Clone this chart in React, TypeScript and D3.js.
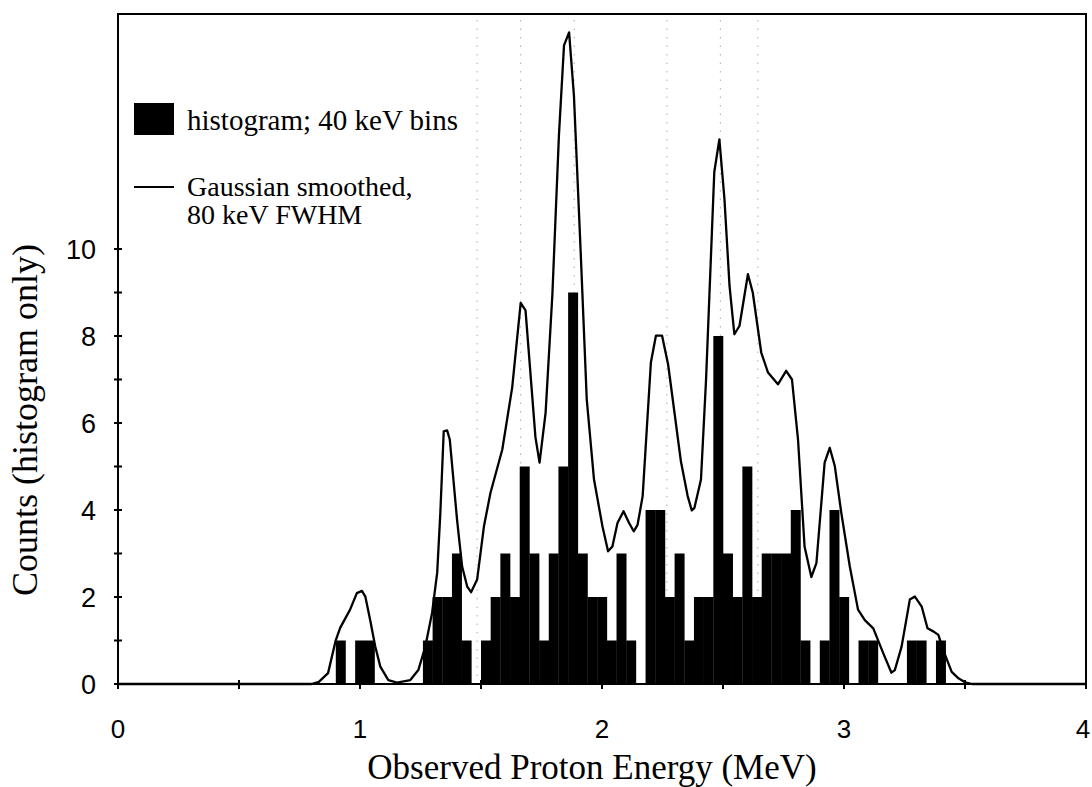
import { useMemo } from "react";
import * as d3 from "d3";

// histogram: 40 keV bins, bin centres in MeV (empty bins left out)
const binCenters = [
  0.92, 1.0, 1.04,
  1.28, 1.32, 1.36, 1.4, 1.44, 1.52, 1.56, 1.6, 1.64, 1.68, 1.72, 1.76, 1.8,
  1.84, 1.88, 1.92, 1.96, 2.0, 2.04, 2.08, 2.12, 2.2, 2.24, 2.28, 2.32, 2.36,
  2.4, 2.44, 2.48, 2.52, 2.56, 2.6, 2.64, 2.68, 2.72, 2.76, 2.8, 2.84, 2.92,
  2.96, 3.0, 3.08, 3.12, 3.28, 3.32, 3.4,
];
const binCounts = [
  1, 1, 1,
  1, 2, 2, 3, 1, 1, 2, 3, 2, 5, 3, 1, 3,
  5, 9, 3, 2, 2, 1, 3, 1, 4, 4, 2, 3, 1,
  2, 2, 8, 3, 2, 5, 2, 3, 3, 3, 4, 1, 1,
  4, 2, 1, 1, 1, 1, 1,
];
const binWidth = 0.04;

// gaussian smoothed curve (80 keV FWHM)
const smoothEnergy = [
  0, 0.8, 0.83, 0.868, 0.9, 0.918, 0.959, 0.987, 1.008, 1.022, 1.042, 1.063,
  1.084, 1.117, 1.153, 1.208, 1.241, 1.27, 1.298, 1.319, 1.332, 1.346, 1.36,
  1.371, 1.401, 1.422, 1.443, 1.459, 1.484, 1.512, 1.539, 1.588, 1.629, 1.664,
  1.684, 1.725, 1.742, 1.767, 1.795, 1.822, 1.843, 1.864, 1.884, 1.912, 1.937,
  1.967, 2.002, 2.025, 2.043, 2.064, 2.089, 2.112, 2.131, 2.147, 2.168, 2.202,
  2.223, 2.248, 2.273, 2.285, 2.326, 2.354, 2.371, 2.382, 2.409, 2.43, 2.464,
  2.485, 2.506, 2.527, 2.547, 2.568, 2.603, 2.623, 2.658, 2.686, 2.727, 2.761,
  2.785, 2.81, 2.837, 2.865, 2.886, 2.92, 2.941, 2.962, 2.989, 3.024, 3.058,
  3.086, 3.121, 3.162, 3.196, 3.21, 3.238, 3.272, 3.293, 3.321, 3.345, 3.369,
  3.39, 3.41, 3.445, 3.473, 3.5, 3.53, 4,
];
const smoothCounts = [
  0, 0, 0.05, 0.25, 1.01, 1.29, 1.71, 2.09, 2.14, 2.01, 1.47, 0.86,
  0.4, 0.09, 0.03, 0.09, 0.32, 0.86, 1.64, 2.56, 3.94, 5.81, 5.83,
  5.62, 3.78, 2.7, 2.24, 2.11, 2.4, 3.62, 4.39, 5.39, 6.82, 8.76,
  8.59, 5.67, 5.09, 6.24, 8.96, 12.61, 14.68, 14.98, 13.53, 9.92, 6.54,
  4.7, 3.62, 3.05, 3.16, 3.7, 3.97, 3.7, 3.51, 3.66, 4.32, 7.39,
  8.01, 8.01, 7.35, 6.85, 5.12, 4.32, 3.99, 4.05, 4.7, 7.0, 11.77,
  12.52, 11.15, 9.15, 8.04, 8.23, 9.42, 9.0, 7.62, 7.16, 6.89, 7.2,
  7.0, 5.62, 3.16, 2.46, 2.78, 5.09, 5.43, 5.01, 3.93, 2.7, 1.71,
  1.47, 1.28, 0.71, 0.26, 0.32, 0.86, 1.94, 2.01, 1.78, 1.28, 1.21,
  1.13, 0.78, 0.28, 0.13, 0.04, 0, 0,
];

const xLabels = [0, 1, 2, 3, 4];
const xMinorTicks = [0.5, 1.5, 2.5, 3.5];
const yLabels = [0, 2, 4, 6, 8, 10];
const yMinorTicks = [1, 3, 5, 7, 9];
// faint dotted scan lines in the original page
const scanLines = [1.484, 1.664, 1.885, 2.268, 2.489, 2.644];

const W = 1092;
const H = 787;
const box = { left: 118, right: 1086, top: 14, bottom: 684 };
const serif = "'Liberation Serif', 'DejaVu Serif', serif";
const sans = "'Liberation Sans', Arial, sans-serif";

export default function App() {
  const x = d3.scaleLinear().domain([0, 4]).range([box.left, box.right]);
  const y = d3.scaleLinear().domain([0, 10]).range([box.bottom, 249]);

  const linePath = useMemo(() => {
    const pts = smoothEnergy.map((e, i) => [e, smoothCounts[i]] as [number, number]);
    return d3
      .line<[number, number]>()
      .x((d) => x(d[0]))
      .y((d) => y(d[1]))
      .curve(d3.curveLinear)(pts) as string;
  }, []);

  return (
    <svg
      width={W}
      height={H}
      style={{ position: "absolute", left: 0, top: 0, background: "#fff" }}
    >
      {/* scan artefacts */}
      {scanLines.map((e) => (
        <line
          key={e}
          x1={x(e)}
          x2={x(e)}
          y1={box.top + 6}
          y2={box.bottom}
          stroke="#888"
          strokeWidth={1}
          strokeDasharray="1.5 7"
          opacity={0.7}
        />
      ))}

      {/* histogram */}
      {binCenters.map((c, i) => (
        <rect
          key={c}
          x={x(c - binWidth / 2)}
          width={x(c + binWidth / 2) - x(c - binWidth / 2) + 0.3}
          y={y(binCounts[i])}
          height={y(0) - y(binCounts[i])}
          fill="#000"
        />
      ))}

      {/* smoothed curve */}
      <path d={linePath} fill="none" stroke="#000" strokeWidth={2.3} strokeLinejoin="round" />

      {/* frame */}
      <rect
        x={box.left}
        y={box.top}
        width={box.right - box.left}
        height={box.bottom - box.top}
        fill="none"
        stroke="#000"
        strokeWidth={2}
      />

      {/* y ticks */}
      {[...yLabels, ...yMinorTicks].map((v) => (
        <line key={"yt" + v} x1={box.left - 4} x2={box.left + 4} y1={y(v)} y2={y(v)} stroke="#000" strokeWidth={2} />
      ))}
      {yLabels.map((v) => (
        <text key={"yl" + v} x={96} y={y(v) + 10} textAnchor="end" fontFamily={sans} fontSize={27}>
          {v}
        </text>
      ))}

      {/* x ticks */}
      {[...xLabels, ...xMinorTicks].map((v) => (
        <line key={"xt" + v} x1={x(v)} x2={x(v)} y1={box.bottom - 4} y2={box.bottom + 5} stroke="#000" strokeWidth={2} />
      ))}
      {xLabels.map((v) => (
        <text
          key={"xl" + v}
          x={Math.min(x(v), W - 9)}
          y={738}
          textAnchor="middle"
          fontFamily={sans}
          fontSize={26}
        >
          {v}
        </text>
      ))}

      {/* axis titles */}
      <text x={592} y={779} textAnchor="middle" fontFamily={serif} fontSize={35}>
        Observed Proton Energy (MeV)
      </text>
      <text
        transform="translate(37,420) rotate(-90)"
        textAnchor="middle"
        fontFamily={serif}
        fontSize={36}
      >
        Counts (histogram only)
      </text>

      {/* legend */}
      <rect x={134} y={103} width={40} height={32} fill="#000" />
      <text x={187} y={130} fontFamily={serif} fontSize={29}>
        histogram; 40 keV bins
      </text>
      <line x1={134} x2={174} y1={187} y2={187} stroke="#000" strokeWidth={2} />
      <text x={187} y={196} fontFamily={serif} fontSize={28}>
        Gaussian smoothed,
      </text>
      <text x={187} y={224} fontFamily={serif} fontSize={28}>
        80 keV FWHM
      </text>
    </svg>
  );
}
